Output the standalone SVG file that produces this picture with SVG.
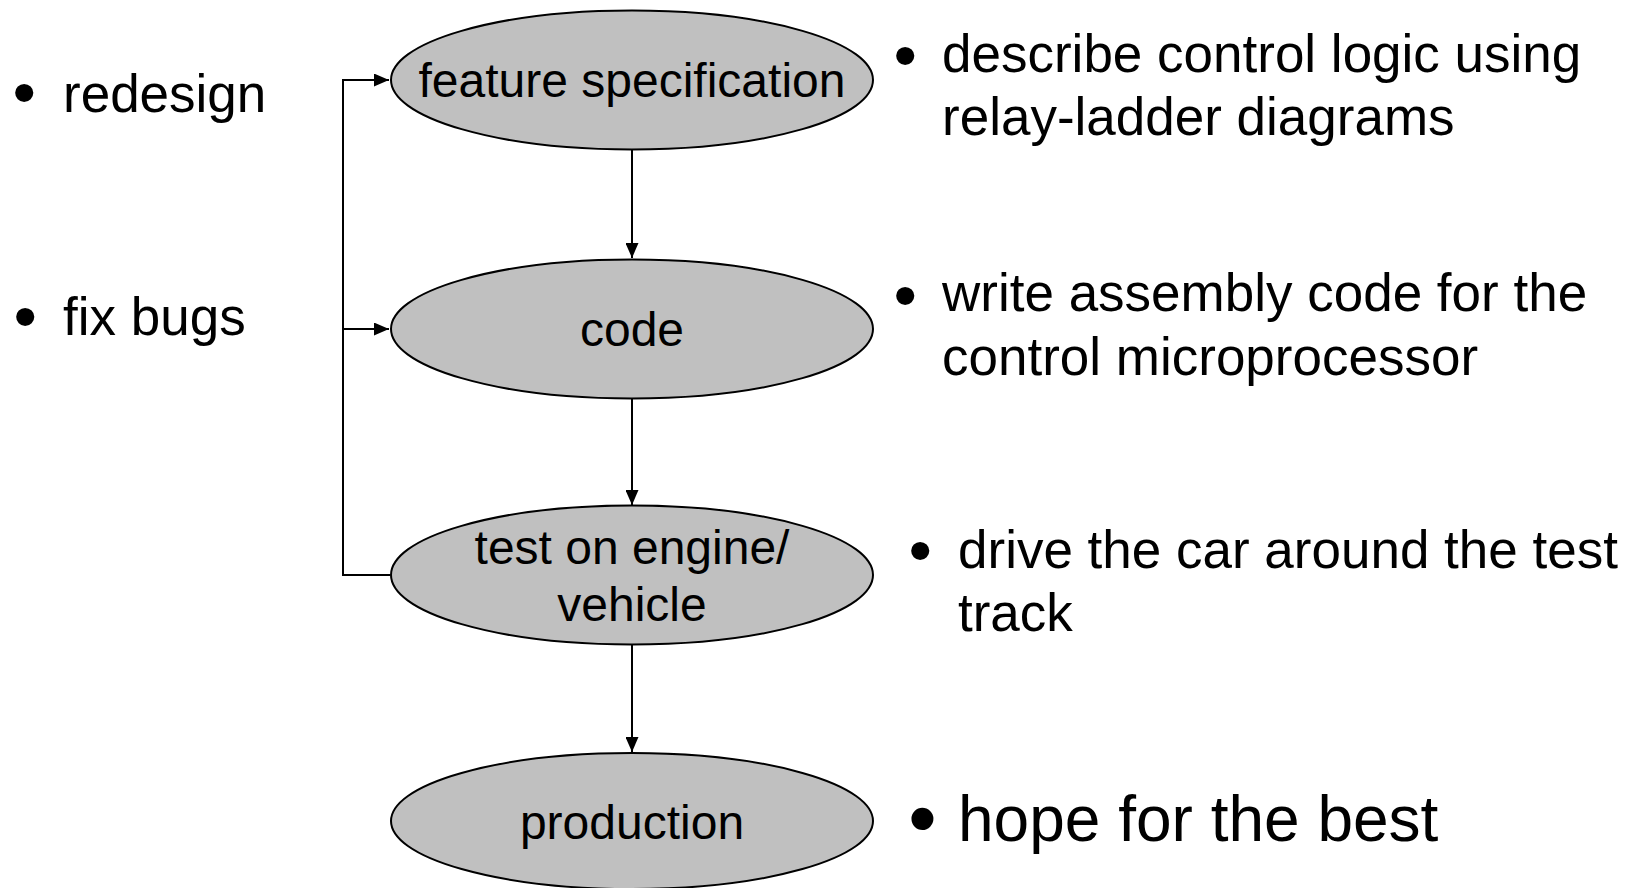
<svg xmlns="http://www.w3.org/2000/svg" width="1639" height="888" viewBox="0 0 1639 888">
<style>
.node{fill:#c0c0c0;stroke:#000;stroke-width:2}
.nt{font-family:"Liberation Sans",Arial,sans-serif;font-size:48px;fill:#000;text-anchor:middle}
.bt{font-family:"Liberation Sans",Arial,sans-serif;font-size:53px;fill:#000}
.big{font-size:64px}
.bul{font-family:"Liberation Sans",Arial,sans-serif;font-size:67px;fill:#000}
.bulbig{font-size:81px}
.conn{fill:none;stroke:#000;stroke-width:2}
</style>
<defs>
<marker id="arr" viewBox="0 0 15 13" refX="15" refY="6.5" markerWidth="15" markerHeight="13" markerUnits="userSpaceOnUse" orient="auto">
<path d="M0,0 L15,6.5 L0,13 Z" fill="#000"/>
</marker>
</defs>
<rect width="1639" height="888" fill="#fff"/>
<g id="connectors">
<line class="conn" x1="632" y1="149.5" x2="632" y2="258" marker-end="url(#arr)"/>
<line class="conn" x1="632" y1="398.5" x2="632" y2="505" marker-end="url(#arr)"/>
<line class="conn" x1="632" y1="645" x2="632" y2="752" marker-end="url(#arr)"/>
<path class="conn" d="M390,575 H343 V80 H389" marker-end="url(#arr)"/>
<path class="conn" d="M343,329 H389" marker-end="url(#arr)"/>
</g>
<g id="feature-specification">
<ellipse class="node" cx="632" cy="80" rx="241" ry="69.5"/>
<text class="nt" x="632" y="97">feature specification</text>
</g>
<g id="code">
<ellipse class="node" cx="632" cy="329" rx="241" ry="69.5"/>
<text class="nt" x="632" y="346">code</text>
</g>
<g id="test">
<ellipse class="node" cx="632" cy="575" rx="241" ry="69.5"/>
<text class="nt" x="632" y="564">test on engine/</text>
<text class="nt" x="632" y="621">vehicle</text>
</g>
<g id="production">
<ellipse class="node" cx="632" cy="821" rx="241" ry="68"/>
<text class="nt" x="632" y="839">production</text>
</g>
<g id="notes-left">
<text class="bul" x="12.6" y="114.9">•</text><text class="bt" x="63" y="112">redesign</text>
<text class="bul" x="13.6" y="339.4">•</text><text class="bt" x="63" y="335">fix bugs</text>
</g>
<g id="notes-right">
<text class="bul" x="893.6" y="78.4">•</text><text class="bt" x="942" y="72">describe control logic using</text>
<text class="bt" x="942" y="135">relay-ladder diagrams</text>
<text class="bul" x="893.6" y="318.4">•</text><text class="bt" x="942" y="311">write assembly code for the</text>
<text class="bt" x="942" y="375">control microprocessor</text>
<text class="bul" x="908.6" y="573.4">•</text><text class="bt" x="958" y="568">drive the car around the test</text>
<text class="bt" x="958" y="631">track</text>
<text class="bul bulbig" x="908.2" y="846.1">•</text><text class="bt big" x="958" y="841">hope for the best</text>
</g>
</svg>
